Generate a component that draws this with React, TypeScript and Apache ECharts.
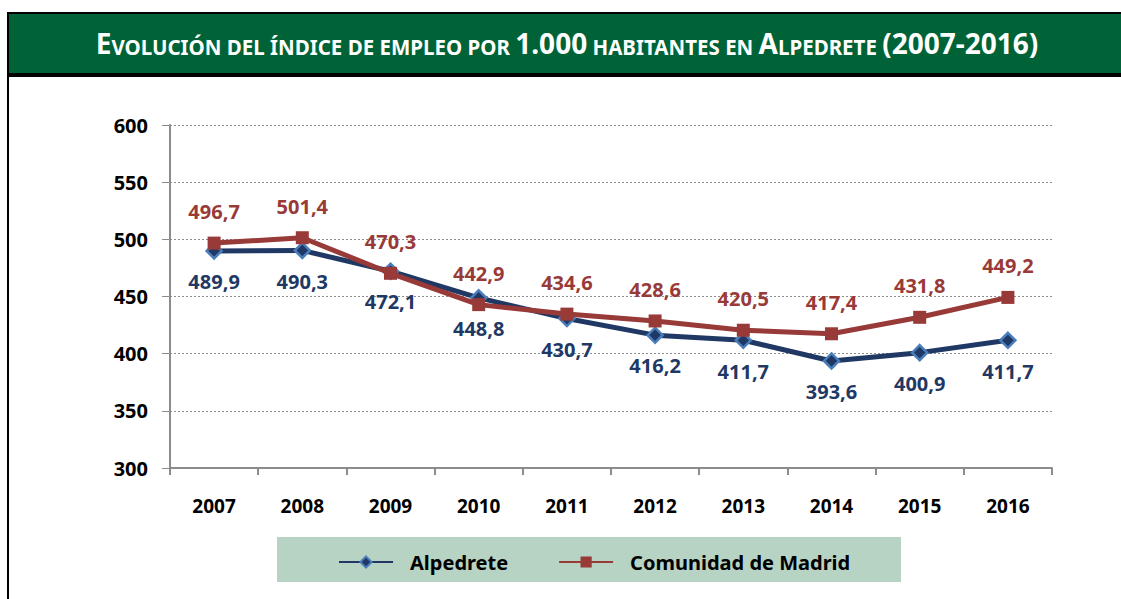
import React, { useEffect, useRef } from "react";
import * as echarts from "echarts";

const years = ["2007", "2008", "2009", "2010", "2011", "2012", "2013", "2014", "2015", "2016"];
const alpedrete = [489.9, 490.3, 472.1, 448.8, 430.7, 416.2, 411.7, 393.6, 400.9, 411.7];
const madrid = [496.7, 501.4, 470.3, 442.9, 434.6, 428.6, 420.5, 417.4, 431.8, 449.2];
const seriesNames = ["Alpedrete", "Comunidad de Madrid"];

const FONT = "'Noto Sans', sans-serif";
const fmt = (v: number) => v.toFixed(1).replace(".", ",");

export default function App() {
  const ref = useRef<HTMLDivElement>(null);
  useEffect(() => {
    if (!ref.current) return;
    const chart = echarts.init(ref.current, undefined, { renderer: "svg" });
    chart.setOption({
      animation: false,
      backgroundColor: "#ffffff",
      textStyle: { fontFamily: FONT },
      graphic: [
        { type: "rect", shape: { x: 7, y: 12, width: 1130, height: 65 }, style: { fill: "#000000" }, z: 0 },
        { type: "rect", shape: { x: 9, y: 14, width: 1130, height: 59 }, style: { fill: "#006338" }, z: 1 },
        { type: "rect", shape: { x: 7, y: 77, width: 2, height: 530 }, style: { fill: "#000000" }, z: 1 },
        {
          type: "text",
          x: 567,
          y: 43,
          z: 2,
          style: {
            text: "{b|E}{s|VOLUCIÓN DEL ÍNDICE DE EMPLEO POR }{b|1.000}{s| HABITANTES EN }{b|A}{s|LPEDRETE }{b|(2007-2016)}",
            align: "center",
            verticalAlign: "middle",
            rich: {
              b: { fontFamily: FONT, fontWeight: "bold", fontSize: 28, fill: "#ffffff", color: "#ffffff" },
              s: { fontFamily: FONT, fontWeight: "bold", fontSize: 20.5, fill: "#ffffff", color: "#ffffff", verticalAlign: "bottom" },
            },
          },
        },
        { type: "rect", shape: { x: 277, y: 537, width: 624, height: 45 }, style: { fill: "#b6d3c4" }, z: 0 },
      ],
      legend: {
        data: seriesNames,
        left: 333,
        top: 547,
        itemWidth: 54,
        itemHeight: 14,
        itemGap: 50,
        textStyle: { fontFamily: FONT, fontWeight: "bold", fontSize: 20, color: "#000000", padding: [0, 0, 0, 12] },
      },
      grid: { left: 170, top: 125, width: 882, height: 343 },
      xAxis: {
        type: "category",
        data: years,
        boundaryGap: true,
        axisLine: { lineStyle: { color: "#8c8c8c", width: 2 } },
        axisTick: { show: true, length: 7, lineStyle: { color: "#8c8c8c", width: 2 } },
        axisLabel: { fontFamily: FONT, fontWeight: "bold", fontSize: 19, color: "#000000", margin: 28 },
      },
      yAxis: {
        type: "value",
        min: 300,
        max: 600,
        interval: 50,
        axisLine: { show: true, lineStyle: { color: "#8c8c8c", width: 2 } },
        axisTick: { show: true, length: 8, lineStyle: { color: "#8c8c8c", width: 1 } },
        splitLine: { show: true, lineStyle: { color: "#8c8c8c", type: [2, 2], width: 1 } },
        axisLabel: { fontFamily: FONT, fontWeight: "bold", fontSize: 20, color: "#000000", margin: 22 },
      },
      series: [
        {
          name: seriesNames[0],
          type: "line",
          data: alpedrete,
          color: "#1f3864",
          symbol: "diamond",
          symbolSize: 15,
          lineStyle: { color: "#1f3864", width: 5 },
          itemStyle: { color: "#1f3864", borderColor: "#4a7ebb", borderWidth: 2.5 },
          label: {
            show: true,
            position: "bottom",
            distance: 12,
            formatter: (p: any) => fmt(p.value),
            fontFamily: FONT,
            fontWeight: "bold",
            fontSize: 20,
            color: "#1f3864",
          },
          z: 3,
        },
        {
          name: seriesNames[1],
          type: "line",
          data: madrid,
          color: "#983a38",
          symbol: "rect",
          symbolSize: 13,
          lineStyle: { color: "#983a38", width: 5 },
          itemStyle: { color: "#983a38" },
          label: {
            show: true,
            position: "top",
            distance: 15,
            formatter: (p: any) => fmt(p.value),
            fontFamily: FONT,
            fontWeight: "bold",
            fontSize: 20,
            color: "#983a38",
          },
          z: 4,
        },
      ],
    });
    return () => chart.dispose();
  }, []);
  return (
    <div
      ref={ref}
      style={{ position: "fixed", left: 0, top: 0, width: 1121, height: 599 }}
    />
  );
}
